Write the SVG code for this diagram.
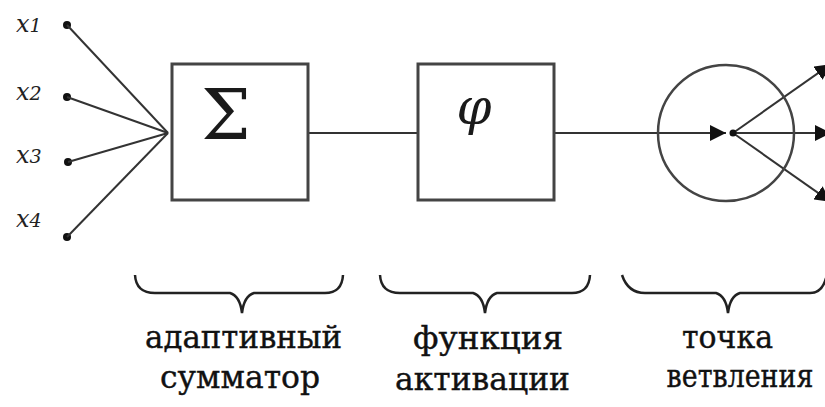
<svg xmlns="http://www.w3.org/2000/svg" width="825" height="407" viewBox="0 0 825 407">
<defs>
<style>
.ln{stroke:#333;stroke-width:2;fill:none}
.box{stroke:#444;stroke-width:3;fill:#fff}
.dot{fill:#111}
.lbl{font-family:"DejaVu Serif","Liberation Serif",serif;font-size:32px;fill:#111;stroke:#111;stroke-width:0.4}
.inp{font-family:"DejaVu Serif","Liberation Serif",serif;font-style:italic;font-size:24px;fill:#222}
.brace{stroke:#222;stroke-width:2.5;fill:none}
.sym{font-family:"DejaVu Serif","Liberation Serif",serif;fill:#1a1a1a}
</style>
<marker id="ah" viewBox="0 0 16 16" refX="16" refY="8" markerWidth="16" markerHeight="16" markerUnits="userSpaceOnUse" orient="auto">
<path d="M0,0 L16,8 L0,16 z" fill="#111"/>
</marker>
</defs>
<rect width="825" height="407" fill="#fff"/>

<g id="inputs">
<text class="inp" x="16" y="32">x<tspan font-size="19">1</tspan></text>
<text class="inp" x="16" y="100">x<tspan font-size="19">2</tspan></text>
<text class="inp" x="16" y="163">x<tspan font-size="19">3</tspan></text>
<text class="inp" x="16" y="227">x<tspan font-size="19">4</tspan></text>
<circle class="dot" cx="67" cy="25" r="4"/>
<circle class="dot" cx="67" cy="97" r="4"/>
<circle class="dot" cx="68" cy="162" r="4"/>
<circle class="dot" cx="67" cy="237" r="4"/>
</g>

<g id="connectors">
<line class="ln" x1="67" y1="25" x2="168" y2="133"/>
<line class="ln" x1="67" y1="97" x2="168" y2="133" stroke-width="2.5"/>
<line class="ln" x1="68" y1="162" x2="168" y2="133" stroke-width="2.5"/>
<line class="ln" x1="67" y1="237" x2="168" y2="133"/>
<line class="ln" x1="308" y1="133" x2="418" y2="133" stroke-width="3"/>
<line class="ln" x1="554" y1="133" x2="726" y2="133" stroke-width="3" marker-end="url(#ah)"/>
<line class="ln" x1="733" y1="133" x2="831" y2="64" marker-end="url(#ah)"/>
<line class="ln" x1="733" y1="133" x2="831" y2="133" stroke-width="3" marker-end="url(#ah)"/>
<line class="ln" x1="733" y1="133" x2="831" y2="202" marker-end="url(#ah)"/>
</g>

<g id="summator">
<rect class="box" x="172" y="64" width="136" height="136"/>
<text class="sym" x="226" y="139" text-anchor="middle" font-size="70">Σ</text>
</g>

<g id="activation">
<rect class="box" x="418" y="64" width="136" height="136"/>
<text class="sym" x="474" y="124" text-anchor="middle" font-style="italic" font-size="50">φ</text>
</g>

<g id="branch">
<circle cx="726" cy="133" r="68" stroke="#444" stroke-width="2.5" fill="none"/>
<circle class="dot" cx="733" cy="133" r="3.5"/>
</g>

<g id="braces">
<path class="brace" d="M135,275 Q136,293 155,293 L230,293 Q240,296 242,313 Q244,296 254,293 L325,293 Q342,293 343,275"/>
<path class="brace" d="M380,275 Q381,293 400,293 L473,293 Q483,296 485,313 Q487,296 497,293 L572,293 Q589,293 590,275"/>
<path class="brace" d="M622,275 Q628,293 645,293 L716,293 Q726,296 728,313 Q730,296 740,293 L810,293 Q822,293 826,278"/>
</g>

<g id="labels">
<text class="lbl" x="145" y="348" textLength="197" lengthAdjust="spacingAndGlyphs">адаптивный</text>
<text class="lbl" x="160" y="388" textLength="160" lengthAdjust="spacingAndGlyphs">сумматор</text>
<text class="lbl" x="413" y="349" textLength="150" lengthAdjust="spacingAndGlyphs">функция</text>
<text class="lbl" x="395" y="390" textLength="175" lengthAdjust="spacingAndGlyphs">активации</text>
<text class="lbl" x="682" y="348" textLength="91" lengthAdjust="spacingAndGlyphs">точка</text>
<text class="lbl" transform="translate(740,387) scale(0.84,1)" x="0" y="0" text-anchor="middle">ветвления</text>
</g>
</svg>
